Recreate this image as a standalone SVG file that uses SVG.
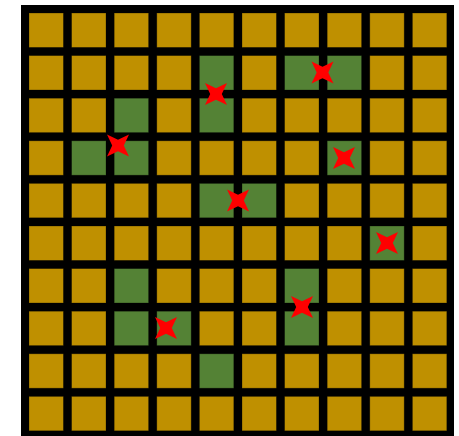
<svg xmlns="http://www.w3.org/2000/svg" xmlns:xlink="http://www.w3.org/1999/xlink" width="459" height="436" viewBox="0 0 459 436">
<style>
.g{fill:#bf9000;stroke:#000;stroke-opacity:0.35;stroke-width:0.8}
.v{fill:#548235;stroke:#000;stroke-opacity:0.35;stroke-width:0.8}
.m{fill:#ff0000}
</style>
<defs>
<path id="star" d="M0,-5.8 L11,-11 L5.8,0 L11,11 L0,5.8 L-11,11 L-5.8,0 L-11,-11 Z"/>
<rect id="c" width="34.4" height="34.4"/>
</defs>
<rect x="0" y="0" width="459" height="436" fill="#fff"/>
<rect x="21" y="5" width="433" height="434" fill="#000"/>
<g id="row0">
<rect class="g" x="29" y="13" width="34.4" height="34.4"/><rect class="g" x="71.6" y="13" width="34.4" height="34.4"/><rect class="g" x="114.2" y="13" width="34.4" height="34.4"/><rect class="g" x="156.8" y="13" width="34.4" height="34.4"/><rect class="g" x="199.4" y="13" width="34.4" height="34.4"/><rect class="g" x="242" y="13" width="34.4" height="34.4"/><rect class="g" x="284.6" y="13" width="34.4" height="34.4"/><rect class="g" x="327.2" y="13" width="34.4" height="34.4"/><rect class="g" x="369.8" y="13" width="34.4" height="34.4"/><rect class="g" x="412.4" y="13" width="34.4" height="34.4"/>
</g>
<g id="row1">
<rect class="g" x="29" y="55.6" width="34.4" height="34.4"/><rect class="g" x="71.6" y="55.6" width="34.4" height="34.4"/><rect class="g" x="114.2" y="55.6" width="34.4" height="34.4"/><rect class="g" x="156.8" y="55.6" width="34.4" height="34.4"/><rect class="v" x="199.4" y="55.6" width="34.4" height="34.4"/><rect class="g" x="242" y="55.6" width="34.4" height="34.4"/><rect class="v" x="284.6" y="55.6" width="34.4" height="34.4"/><rect class="v" x="327.2" y="55.6" width="34.4" height="34.4"/><rect class="g" x="369.8" y="55.6" width="34.4" height="34.4"/><rect class="g" x="412.4" y="55.6" width="34.4" height="34.4"/>
</g>
<g id="row2">
<rect class="g" x="29" y="98.2" width="34.4" height="34.4"/><rect class="g" x="71.6" y="98.2" width="34.4" height="34.4"/><rect class="v" x="114.2" y="98.2" width="34.4" height="34.4"/><rect class="g" x="156.8" y="98.2" width="34.4" height="34.4"/><rect class="v" x="199.4" y="98.2" width="34.4" height="34.4"/><rect class="g" x="242" y="98.2" width="34.4" height="34.4"/><rect class="g" x="284.6" y="98.2" width="34.4" height="34.4"/><rect class="g" x="327.2" y="98.2" width="34.4" height="34.4"/><rect class="g" x="369.8" y="98.2" width="34.4" height="34.4"/><rect class="g" x="412.4" y="98.2" width="34.4" height="34.4"/>
</g>
<g id="row3">
<rect class="g" x="29" y="140.8" width="34.4" height="34.4"/><rect class="v" x="71.6" y="140.8" width="34.4" height="34.4"/><rect class="v" x="114.2" y="140.8" width="34.4" height="34.4"/><rect class="g" x="156.8" y="140.8" width="34.4" height="34.4"/><rect class="g" x="199.4" y="140.8" width="34.4" height="34.4"/><rect class="g" x="242" y="140.8" width="34.4" height="34.4"/><rect class="g" x="284.6" y="140.8" width="34.4" height="34.4"/><rect class="v" x="327.2" y="140.8" width="34.4" height="34.4"/><rect class="g" x="369.8" y="140.8" width="34.4" height="34.4"/><rect class="g" x="412.4" y="140.8" width="34.4" height="34.4"/>
</g>
<g id="row4">
<rect class="g" x="29" y="183.4" width="34.4" height="34.4"/><rect class="g" x="71.6" y="183.4" width="34.4" height="34.4"/><rect class="g" x="114.2" y="183.4" width="34.4" height="34.4"/><rect class="g" x="156.8" y="183.4" width="34.4" height="34.4"/><rect class="v" x="199.4" y="183.4" width="34.4" height="34.4"/><rect class="v" x="242" y="183.4" width="34.4" height="34.4"/><rect class="g" x="284.6" y="183.4" width="34.4" height="34.4"/><rect class="g" x="327.2" y="183.4" width="34.4" height="34.4"/><rect class="g" x="369.8" y="183.4" width="34.4" height="34.4"/><rect class="g" x="412.4" y="183.4" width="34.4" height="34.4"/>
</g>
<g id="row5">
<rect class="g" x="29" y="226" width="34.4" height="34.4"/><rect class="g" x="71.6" y="226" width="34.4" height="34.4"/><rect class="g" x="114.2" y="226" width="34.4" height="34.4"/><rect class="g" x="156.8" y="226" width="34.4" height="34.4"/><rect class="g" x="199.4" y="226" width="34.4" height="34.4"/><rect class="g" x="242" y="226" width="34.4" height="34.4"/><rect class="g" x="284.6" y="226" width="34.4" height="34.4"/><rect class="g" x="327.2" y="226" width="34.4" height="34.4"/><rect class="v" x="369.8" y="226" width="34.4" height="34.4"/><rect class="g" x="412.4" y="226" width="34.4" height="34.4"/>
</g>
<g id="row6">
<rect class="g" x="29" y="268.6" width="34.4" height="34.4"/><rect class="g" x="71.6" y="268.6" width="34.4" height="34.4"/><rect class="v" x="114.2" y="268.6" width="34.4" height="34.4"/><rect class="g" x="156.8" y="268.6" width="34.4" height="34.4"/><rect class="g" x="199.4" y="268.6" width="34.4" height="34.4"/><rect class="g" x="242" y="268.6" width="34.4" height="34.4"/><rect class="v" x="284.6" y="268.6" width="34.4" height="34.4"/><rect class="g" x="327.2" y="268.6" width="34.4" height="34.4"/><rect class="g" x="369.8" y="268.6" width="34.4" height="34.4"/><rect class="g" x="412.4" y="268.6" width="34.4" height="34.4"/>
</g>
<g id="row7">
<rect class="g" x="29" y="311.2" width="34.4" height="34.4"/><rect class="g" x="71.6" y="311.2" width="34.4" height="34.4"/><rect class="v" x="114.2" y="311.2" width="34.4" height="34.4"/><rect class="v" x="156.8" y="311.2" width="34.4" height="34.4"/><rect class="g" x="199.4" y="311.2" width="34.4" height="34.4"/><rect class="g" x="242" y="311.2" width="34.4" height="34.4"/><rect class="v" x="284.6" y="311.2" width="34.4" height="34.4"/><rect class="g" x="327.2" y="311.2" width="34.4" height="34.4"/><rect class="g" x="369.8" y="311.2" width="34.4" height="34.4"/><rect class="g" x="412.4" y="311.2" width="34.4" height="34.4"/>
</g>
<g id="row8">
<rect class="g" x="29" y="353.8" width="34.4" height="34.4"/><rect class="g" x="71.6" y="353.8" width="34.4" height="34.4"/><rect class="g" x="114.2" y="353.8" width="34.4" height="34.4"/><rect class="g" x="156.8" y="353.8" width="34.4" height="34.4"/><rect class="v" x="199.4" y="353.8" width="34.4" height="34.4"/><rect class="g" x="242" y="353.8" width="34.4" height="34.4"/><rect class="g" x="284.6" y="353.8" width="34.4" height="34.4"/><rect class="g" x="327.2" y="353.8" width="34.4" height="34.4"/><rect class="g" x="369.8" y="353.8" width="34.4" height="34.4"/><rect class="g" x="412.4" y="353.8" width="34.4" height="34.4"/>
</g>
<g id="row9">
<rect class="g" x="29" y="396.4" width="34.4" height="34.4"/><rect class="g" x="71.6" y="396.4" width="34.4" height="34.4"/><rect class="g" x="114.2" y="396.4" width="34.4" height="34.4"/><rect class="g" x="156.8" y="396.4" width="34.4" height="34.4"/><rect class="g" x="199.4" y="396.4" width="34.4" height="34.4"/><rect class="g" x="242" y="396.4" width="34.4" height="34.4"/><rect class="g" x="284.6" y="396.4" width="34.4" height="34.4"/><rect class="g" x="327.2" y="396.4" width="34.4" height="34.4"/><rect class="g" x="369.8" y="396.4" width="34.4" height="34.4"/><rect class="g" x="412.4" y="396.4" width="34.4" height="34.4"/>
</g>
<g id="markers">
<use class="m" xlink:href="#star" href="#star" x="118" y="145.5"/>
<use class="m" xlink:href="#star" href="#star" x="216" y="94"/>
<use class="m" xlink:href="#star" href="#star" x="322.5" y="72.5"/>
<use class="m" xlink:href="#star" href="#star" x="344" y="158"/>
<use class="m" xlink:href="#star" href="#star" x="238" y="200.5"/>
<use class="m" xlink:href="#star" href="#star" x="387" y="243"/>
<use class="m" xlink:href="#star" href="#star" x="302" y="307"/>
<use class="m" xlink:href="#star" href="#star" x="166" y="328"/>
</g>
</svg>
